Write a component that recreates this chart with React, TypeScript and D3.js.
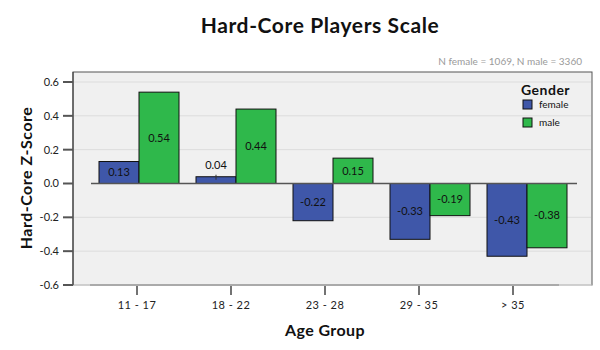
import React from "react";
import * as d3 from "d3";

const categories = ["11 - 17", "18 - 22", "23 - 28", "29 - 35", "> 35"];
const genders = ["female", "male"];
const femaleValues = [0.13, 0.04, -0.22, -0.33, -0.43];
const maleValues = [0.54, 0.44, 0.15, -0.19, -0.38];
const yTicks = [0.6, 0.4, 0.2, 0.0, -0.2, -0.4, -0.6];
const colors: Record<string, string> = { female: "#3f57a9", male: "#2fb84b" };

const W = 600;
const H = 350;
const FONT = "Lato, 'DejaVu Sans', sans-serif";

export default function App() {
  const y = d3.scaleLinear().domain([-0.6, 0.6]).range([285, 82]);
  const xBars = d3.scaleBand<string>().domain(categories).range([90.5, 575.5]);
  const xInner = d3
    .scaleBand<string>()
    .domain(genders)
    .range([(xBars.bandwidth() - 80) / 2, (xBars.bandwidth() + 80) / 2]);
  const xTicks = d3.scaleBand<string>().domain(categories).range([90, 560]);

  const series: Record<string, number[]> = { female: femaleValues, male: maleValues };

  const frame = { x0: 73, x1: 592, y0: 72, y1: 285 };

  return (
    <svg
      width={W}
      height={H}
      style={{ position: "absolute", left: 0, top: 0, background: "#fff", fontFamily: FONT }}
    >
      <text x={320} y={33} textAnchor="middle" fontSize={21} fontWeight="bold" fill="#111" letterSpacing={0.6}>
        Hard-Core Players Scale
      </text>
      <text x={582} y={65} textAnchor="end" fontSize={10} fill="#9a9a9a">
        N female = 1069, N male = 3360
      </text>

      <rect
        x={frame.x0}
        y={frame.y0}
        width={frame.x1 - frame.x0}
        height={frame.y1 - frame.y0}
        fill="#f0f0f0"
        stroke="#555"
        strokeWidth={1}
      />
      {yTicks
        .filter((t) => t !== 0)
        .map((t) => (
          <line
            key={"g" + t}
            x1={frame.x0 + 1}
            x2={frame.x1 - 1}
            y1={y(t)}
            y2={y(t)}
            stroke="#dcdcdc"
            strokeWidth={1}
          />
        ))}
      <line x1={frame.x0} x2={frame.x1} y1={frame.y1} y2={frame.y1} stroke="#ddd" strokeWidth={1} />
      <line x1={90} x2={559} y1={frame.y1} y2={frame.y1} stroke="#aaa" strokeWidth={2} />
      <line x1={frame.x0} x2={frame.x0} y1={frame.y0} y2={frame.y1} stroke="#333" strokeWidth={1} />

      {/* y ticks */}
      {yTicks.map((t) => (
        <g key={"t" + t}>
          <line x1={63} x2={frame.x0} y1={y(t)} y2={y(t)} stroke="#555" strokeWidth={2} />
          <text x={59} y={y(t)} dy="0.35em" textAnchor="end" fontSize={11} fill="#222">
            {t.toFixed(1)}
          </text>
        </g>
      ))}

      {/* bars */}
      {categories.map((c, i) =>
        genders.map((g) => {
          const v = series[g][i];
          const bx = (xBars(c) as number) + (xInner(g) as number);
          const bw = xInner.bandwidth();
          const y0 = y(Math.max(0, v));
          const y1 = y(Math.min(0, v));
          const h = y1 - y0;
          const small = h < 14;
          const ly = small ? y0 - 12 : (y0 + y1) / 2;
          return (
            <g key={c + g}>
              <rect x={bx} y={y0} width={bw} height={h} fill={colors[g]} stroke="#111" strokeWidth={1} />
              <text x={bx + bw / 2} y={ly} dy="0.35em" textAnchor="middle" fontSize={11} fill="#111">
                {v.toFixed(2)}
              </text>
              {small && (
                <line x1={bx + bw / 2} x2={bx + bw / 2} y1={y0 - 2} y2={y0 + 3} stroke="#333" strokeWidth={1} />
              )}
            </g>
          );
        })
      )}

      {/* zero line */}
      <line x1={91} x2={577} y1={y(0)} y2={y(0)} stroke="#555" strokeWidth={1.5} />

      {/* x ticks */}
      {categories.map((c) => {
        const cx = (xTicks(c) as number) + xTicks.bandwidth() / 2;
        return (
          <g key={"x" + c}>
            <line x1={cx} x2={cx} y1={286} y2={295} stroke="#444" strokeWidth={1.5} />
            <text x={cx} y={305} dy="0.35em" textAnchor="middle" fontSize={11} fill="#222" letterSpacing={0.5}>
              {c}
            </text>
          </g>
        );
      })}

      <text x={325} y={336} textAnchor="middle" fontSize={16} fontWeight="bold" fill="#111" letterSpacing={0.4}>
        Age Group
      </text>
      <text
        transform={`translate(32,178) rotate(-90)`}
        textAnchor="middle"
        fontSize={16}
        fontWeight="bold"
        fill="#111"
        letterSpacing={0.5}
      >
        Hard-Core Z-Score
      </text>

      {/* legend */}
      <text x={521} y={95} fontSize={14} fontWeight="bold" fill="#111" letterSpacing={0.5}>
        Gender
      </text>
      {genders.map((g, i) => (
        <g key={"l" + g}>
          <rect x={523} y={100 + i * 18} width={9} height={9} fill={colors[g]} stroke="#111" strokeWidth={1} />
          <text x={539} y={104.5 + i * 18} dy="0.35em" fontSize={10} fill="#111">
            {g}
          </text>
        </g>
      ))}
    </svg>
  );
}
